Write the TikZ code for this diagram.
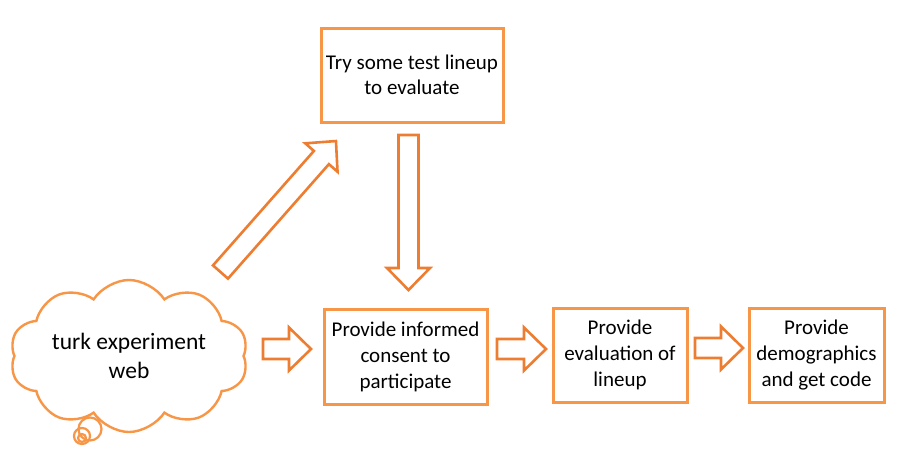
\documentclass[tikz,border=0pt]{standalone}
\usepackage{fontspec}
\setmainfont{Carlito}
\usetikzlibrary{shapes.symbols}
\definecolor{boxorange}{HTML}{F79646}
\definecolor{arroworange}{HTML}{ED7D31}
\tikzset{
  stepbox/.style={draw=boxorange, line width=3pt, fill=white, inner sep=0pt, align=center,
    font=\fontsize{21}{26}\selectfont},
  arrowline/.style={draw=arroworange, line width=2.6pt, fill=white, line join=miter},
  thought/.style={draw=boxorange, line width=2.4pt, fill=white, cloud, cloud puffs=10,
    cloud puff arc=115, aspect=1.8, inner sep=0pt, align=center,
    font=\fontsize{23.5}{29}\selectfont},
  bubble/.style={draw=boxorange, line width=2.2pt}
}
\newcommand\blkarrow[4]{%
  \begin{scope}[shift={(#1,#2)}, rotate=#3]
    \draw[arrowline] (0,10) -- ({#4-22},10) -- ({#4-22},21.5) -- (#4,0)
      -- ({#4-22},-21.5) -- ({#4-22},-10) -- (0,-10) -- cycle;
  \end{scope}}
\begin{document}
\begin{tikzpicture}[x=1pt,y=-1pt]
  \useasboundingbox[fill=white] (0,0) rectangle (905,456);
  % thought bubble circles
  \draw[bubble] (90,429) circle (11.5);
  \draw[bubble] (82,436) circle (8);
  \draw[bubble] (82,438) circle (4);
  % cloud
  \node[thought, minimum width=238pt, minimum height=132pt] (cloud) at (129,356) {turk experiment\\web};
  % boxes
  \node[stepbox, minimum width=182pt, minimum height=94pt, font=\fontsize{21}{24.5}\selectfont] (try) at (412,75) {Try some test lineup\\to evaluate};
  \node[stepbox, minimum width=163pt, minimum height=95pt] (consent) at (405.5,356.5) {Provide informed\\consent to\\participate};
  \node[stepbox, minimum width=134pt, minimum height=94pt] (eval) at (620,355) {Provide\\evaluation of\\lineup};
  \node[stepbox, minimum width=135pt, minimum height=94pt] (demo) at (816.5,355) {Provide\\demographics\\and get code};
  % block arrows
  \blkarrow{263}{349}{0}{48}
  \blkarrow{497}{349}{0}{49}
  \blkarrow{695}{348}{0}{48}
  \blkarrow{408.5}{135}{-90}{155}
  \blkarrow{220.5}{272}{48.6}{174.6}
\end{tikzpicture}
\end{document}
